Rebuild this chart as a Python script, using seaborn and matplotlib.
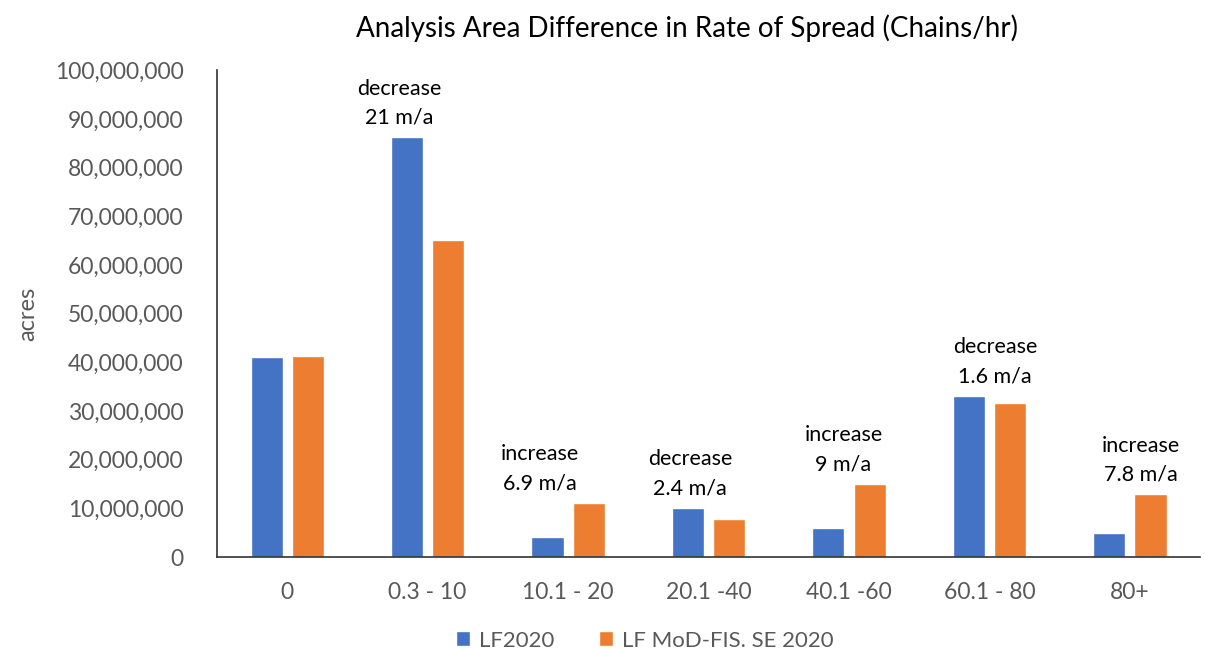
import matplotlib
matplotlib.use('Agg')
import matplotlib.pyplot as plt
import matplotlib.ticker as mticker
import pandas as pd
import seaborn as sns

# values (acres)
categories = ['0', '0.3 - 10', '10.1 - 20', '20.1 -40', '40.1 -60', '60.1 - 80', '80+']
lf2020 = [41.0e6, 86.2e6, 4.1e6, 10.1e6, 5.9e6, 33.1e6, 4.9e6]
lf_modfis = [41.3e6, 65.2e6, 11.1e6, 7.8e6, 15.0e6, 31.6e6, 12.9e6]
series_names = ['LF2020', 'LF MoD-FIS. SE 2020']

# change notes shown above the groups (category index, text)
notes = [(1, 'decrease\n21 m/a'), (2, 'increase\n6.9 m/a'), (3, 'decrease\n2.4 m/a'),
         (4, 'increase\n9 m/a'), (5, 'decrease\n1.6 m/a'), (6, 'increase\n7.8 m/a')]
note_dx = {1: -0.2, 2: -0.2, 3: -0.13, 4: -0.04, 5: 0.04, 6: 0.08}

df = pd.DataFrame({
    'range': categories * 2,
    'acres': lf2020 + lf_modfis,
    'series': [series_names[0]] * len(categories) + [series_names[1]] * len(categories),
})

sns.set_style('white')
plt.rcParams['font.family'] = ['Lato', 'DejaVu Sans']

fig, ax = plt.subplots(figsize=(12.05, 6.5), dpi=100)
fig.subplots_adjust(left=0.18, right=0.996, top=0.892, bottom=0.143)

sns.barplot(data=df, x='range', y='acres', hue='series', order=categories,
            hue_order=series_names, palette=['#4472C4', '#ED7D31'],
            width=0.586, gap=0.22, saturation=1, ax=ax, legend=True)

ax.set_ylim(0, 100e6)
ax.set_xlim(-0.5, len(categories) - 0.5)
ax.yaxis.set_major_locator(mticker.MultipleLocator(10e6))
ax.yaxis.set_major_formatter(mticker.FuncFormatter(lambda v, p: f'{v:,.0f}'))
ax.tick_params(axis='both', length=0, labelsize=16.5, labelcolor='#595959', pad=18)
ax.tick_params(axis='y', pad=24)

for s in ['top', 'right']:
    ax.spines[s].set_visible(False)
for s in ['left', 'bottom']:
    ax.spines[s].set_color('#333333')
    ax.spines[s].set_linewidth(1.2)

ax.set_xlabel('')
ax.set_ylabel('acres', fontsize=17, color='#595959', labelpad=12)
ax.set_title('Analysis Area Difference in Rate of Spread (Chains/hr)',
             fontsize=20, color='black', pad=24, x=0.478)

for i, txt in notes:
    top = max(lf2020[i], lf_modfis[i])
    ax.text(i + note_dx[i], top + 2.0e6, txt, ha='center', va='bottom',
            fontsize=15.5, linespacing=1.55, color='black')

leg = ax.legend(loc='upper center', bbox_to_anchor=(0.435, -0.11), ncol=2,
                frameon=False, fontsize=16, handlelength=0.65, handleheight=0.65,
                handletextpad=0.4, columnspacing=2.0)
for t in leg.get_texts():
    t.set_color('#595959')

fig.savefig('out.png', dpi=100)
